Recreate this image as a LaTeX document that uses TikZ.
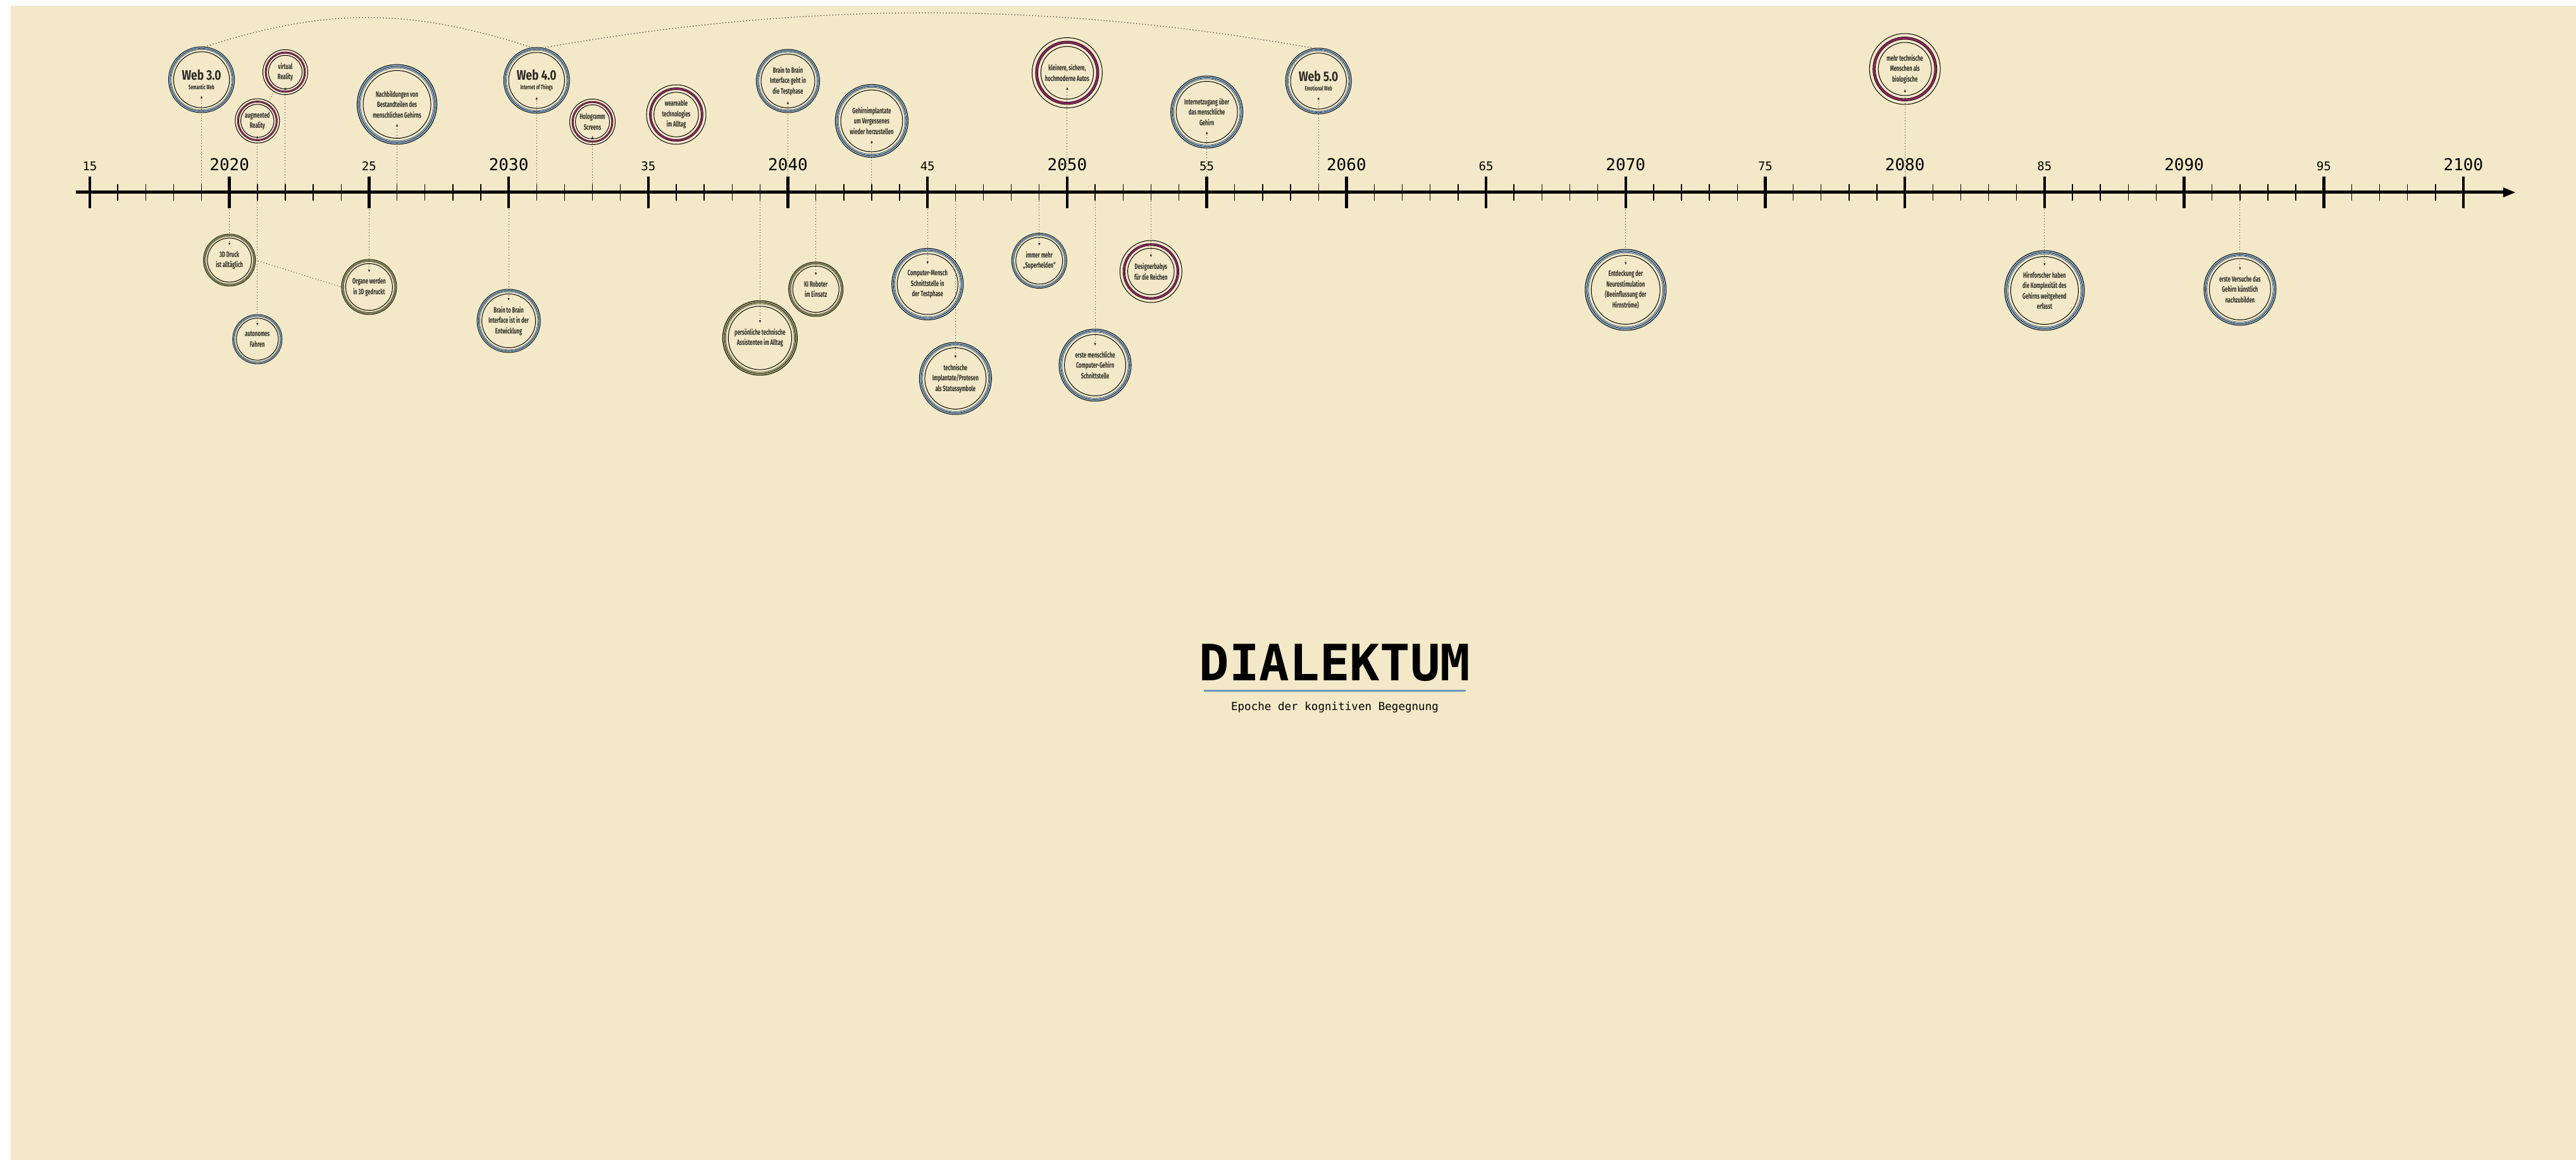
\documentclass[tikz,border=0pt]{standalone}
\usepackage{fontspec}
\usepackage{tikz}
\usetikzlibrary{positioning,arrows.meta}

\newfontfamily\evfontfamily[FakeStretch=0.62]{Fira Sans}
\newfontfamily\webfontfamily[FakeStretch=0.8]{Fira Sans}
\newfontfamily\yearfont{DejaVu Sans Mono}
\newcommand\evfont{\evfontfamily\bfseries\fontsize{3.5pt}{4.7pt}\selectfont}
\newcommand\webtitle[2]{{\webfontfamily\bfseries\fontsize{6.2pt}{6.2pt}\selectfont #1}\\[-0.3pt]{\evfontfamily\bfseries\fontsize{2.9pt}{3.4pt}\selectfont #2}}

\definecolor{paper}{HTML}{F3E9C8}
\definecolor{ink}{HTML}{2B2A27}
\definecolor{ringblue}{HTML}{9CC0DC}
\definecolor{ringgreen}{HTML}{AEB07C}
\definecolor{ringpurple}{HTML}{8E2563}
\definecolor{ruleblue}{HTML}{6E96BD}

\tikzset{
  evtext/.style={align=center, font=\evfont, text=ink, inner sep=0.08cm, anchor=center},
  thinring/.style={circle, draw=black, line width=0.01cm, inner sep=0pt, outer sep=0pt},
  % striped band right on the rim (blue and green events)
  techband/.style n args={2}{thinring, minimum size=1.91*#2cm, line width=0.085*#2cm,
    postaction={draw=#1, line width=0.069*#2cm},
    postaction={draw=black, line width=0.012*#2cm}},
  % band set a bit inside the rim (purple events)
  visionband/.style n args={2}{thinring, minimum size=1.74*#2cm, line width=0.08*#2cm,
    postaction={draw=#1, line width=0.052*#2cm}},
  tech/.style n args={2}{evtext, append after command={\pgfextra{\let\evnode\tikzlastnode}
    node[thinring, minimum size=2*#2cm] (\evnode-ring) at (\evnode.center) {}
    node[techband={#1}{#2}] at (\evnode.center) {}
    node[thinring, minimum size=1.7*#2cm] at (\evnode.center) {}}},
  vision/.style={evtext, append after command={\pgfextra{\let\evnode\tikzlastnode}
    node[thinring, minimum size=2*#1cm] (\evnode-ring) at (\evnode.center) {}
    node[visionband={ringpurple}{#1}] at (\evnode.center) {}
    node[thinring, minimum size=1.5*#1cm] at (\evnode.center) {}}},
  pointer/.style={densely dotted, line width=0.01cm, draw=ink, -{Latex[length=0.045cm,width=0.035cm]}},
  webarc/.style={densely dotted, line width=0.012cm, draw=ink},
  timeaxis/.style={line width=0.05cm, -{Triangle[length=0.2cm,width=0.14cm]}},
  majortick/.style={line width=0.045cm},
  minortick/.style={line width=0.014cm},
  decade/.style={anchor=base, inner sep=0pt, font=\yearfont\fontsize{7.4pt}{8pt}\selectfont},
  halfdecade/.style={anchor=base, inner sep=0pt, font=\yearfont\fontsize{5.4pt}{6pt}\selectfont},
  titletext/.style={anchor=base, inner sep=0pt, font=\yearfont\bfseries\fontsize{22.5pt}{24pt}\selectfont},
  subtitletext/.style={anchor=base, inner sep=0pt, font=\yearfont\fontsize{5pt}{6pt}\selectfont}
}

\begin{document}
\begin{tikzpicture}[node distance=1.5cm, on grid]
  \useasboundingbox (-1.42,-15.29) rectangle (39.30,3.04);
  \fill[white] (-1.42,-15.29) rectangle (39.30,3.04);
  \fill[paper] (-1.25,-15.29) rectangle (39.30,2.95);

  % the time axis, one tick per year
  \foreach \y in {2015,...,2100}
    \coordinate (t\y) at ({(\y-2015)*0.4414},0);
  \draw[timeaxis] ([xshift=-0.22cm]t2015) -- ([xshift=0.83cm]t2100);
  \foreach \y in {2015,...,2100}
    \draw[minortick] ([yshift=-0.13cm]t\y) -- ([yshift=0.13cm]t\y);
  \foreach \y in {2015,2020,...,2100}
    \draw[majortick] ([yshift=-0.25cm]t\y) -- ([yshift=0.25cm]t\y);
  \foreach \y in {2020,2030,...,2100}
    \node[decade] (lab\y) at ([yshift=0.34cm]t\y) {\y};
  \foreach \y in {2015,2025,...,2095}{
    \pgfmathtruncatemacro\yy{\y-2000}
    \node[halfdecade] (lab\y) at ([yshift=0.34cm]t\y) {\yy};}

  % events above the axis
  \node (web3) [above=1.78cm of t2019, tech={ringblue}{0.52}] {\webtitle{Web 3.0}{Semantic Web}};
  \node (vr) [above=1.90cm of t2022, vision=0.355] {virtual\\Reality};
  \node (ar) [above=1.13cm of t2021, vision=0.35] {augmented\\Reality};
  \node (nachbild) [above=1.39cm of t2026, tech={ringblue}{0.63}] {Nachbildungen von\\Bestandteilen des\\menschlichen Gehirns};
  \node (web4) [above=1.77cm of t2031, tech={ringblue}{0.52}] {\webtitle{Web 4.0}{Internet of Things}};
  \node (holo) [above=1.115cm of t2033, vision=0.36] {Hologramm\\Screens};
  \node (wear) [above=1.23cm of t2036, vision=0.47] {weareable\\technologies\\im Alltag};
  \node (btbtest) [above=1.76cm of t2040, tech={ringblue}{0.50}] {Brain to Brain\\Interface geht in\\die Testphase};
  \node (implant) [above=1.13cm of t2043, tech={ringblue}{0.575}] {Gehirnimplantate\\um Vergessenes\\wieder herzustellen};
  \node (autos) [above=1.89cm of t2050, vision=0.555] {kleinere, sichere,\\hochmoderne Autos};
  \node (netz) [above=1.27cm of t2055, tech={ringblue}{0.57}] {Internetzugang über\\das menschliche\\Gehirn};
  \node (web5) [above=1.76cm of t2059, tech={ringblue}{0.52}] {\webtitle{Web 5.0}{Emotional Web}};
  \node (mehr) [above=1.95cm of t2080, vision=0.56] {mehr technische\\Menschen als\\biologische};

  % events below the axis
  \node (druck) [below=1.07cm of t2020, tech={ringgreen}{0.41}] {3D Druck\\ist alltäglich};
  \node (fahren) [below=2.32cm of t2021, tech={ringblue}{0.39}] {autonomes\\Fahren};
  \node (organe) [below=1.495cm of t2025, tech={ringgreen}{0.435}] {Organe werden\\in 3D gedruckt};
  \node (btbdev) [below=2.03cm of t2030, tech={ringblue}{0.50}] {Brain to Brain\\Interface ist in der\\Entwicklung};
  \node (assist) [below=2.30cm of t2039, tech={ringgreen}{0.59}] {persönliche technische\\Assistenten im Alltag};
  \node (ki) [below=1.53cm of t2041, tech={ringgreen}{0.43}] {KI Roboter\\im Einsatz};
  \node (cm) [below=1.45cm of t2045, tech={ringblue}{0.565}] {Computer-Mensch\\Schnittstelle in\\der Testphase};
  \node (status) [below=2.94cm of t2046, tech={ringblue}{0.57}] {technische\\Implantate/Protesen\\als Statussymbole};
  \node (superh) [below=1.08cm of t2049, tech={ringblue}{0.435}] {immer mehr\\„Superhelden“};
  \node (cgs) [below=2.73cm of t2051, tech={ringblue}{0.57}] {erste menschliche\\Computer-Gehirn\\Schnittstelle};
  \node (design) [below=1.25cm of t2053, vision=0.49] {Designerbabys\\für die Reichen};
  \node (neuro) [below=1.54cm of t2070, tech={ringblue}{0.64}] {Entdeckung der\\Neurostimulation\\(Beeinflussung der\\Hirnströme)};
  \node (hirn) [below=1.55cm of t2085, tech={ringblue}{0.63}] {Hirnforscher haben\\die Komplexität des\\Gehirns weitgehend\\erfasst};
  \node (versuch) [below=1.53cm of t2092, tech={ringblue}{0.57}] {erste Versuche das\\Gehirn künstlich\\nachzubilden};

  \path[pointer]
  (t2019) edge (web3)
  (t2020) edge (druck)
  (t2021) edge (ar)
          edge (fahren)
  (t2022) edge (vr)
  (t2025) edge (organe)
  (t2026) edge (nachbild)
  (t2030) edge (btbdev)
  (t2031) edge (web4)
  (t2033) edge (holo)
  (t2039) edge (assist)
  (t2040) edge (btbtest)
  (t2041) edge (ki)
  (t2043) edge (implant)
  (t2045) edge (cm)
  (t2046) edge (status)
  (t2049) edge (superh)
  (t2050) edge (autos)
  (t2051) edge (cgs)
  (t2053) edge (design)
  (t2055) edge (netz)
  (t2059) edge (web5)
  (t2070) edge (neuro)
  (t2080) edge (mehr)
  (t2085) edge (hirn)
  (t2092) edge (versuch)
  ;
  \path[pointer, -]
  (ar-ring) edge (vr-ring)
  (druck-ring.east) edge (organe-ring.west);

  % the web generations are chained along the top
  \path[webarc]
  (web3-ring.85) edge [out=18, in=162] (web4-ring.97)
  (web4-ring.80) edge [out=10, in=170, looseness=0.9] (web5-ring.97);

  \node[titletext] (title) at (19.68,-7.71) {DIALEKTUM};
  \draw[ruleblue, line width=0.03cm, shorten <=0.08cm, shorten >=0.08cm]
    ([yshift=-0.16cm]title.base west) -- ([yshift=-0.16cm]title.base east);
  \node[subtitletext] (subtitle) at ([yshift=-0.47cm]title.base) {Epoche der kognitiven Begegnung};
\end{tikzpicture}
\end{document}
